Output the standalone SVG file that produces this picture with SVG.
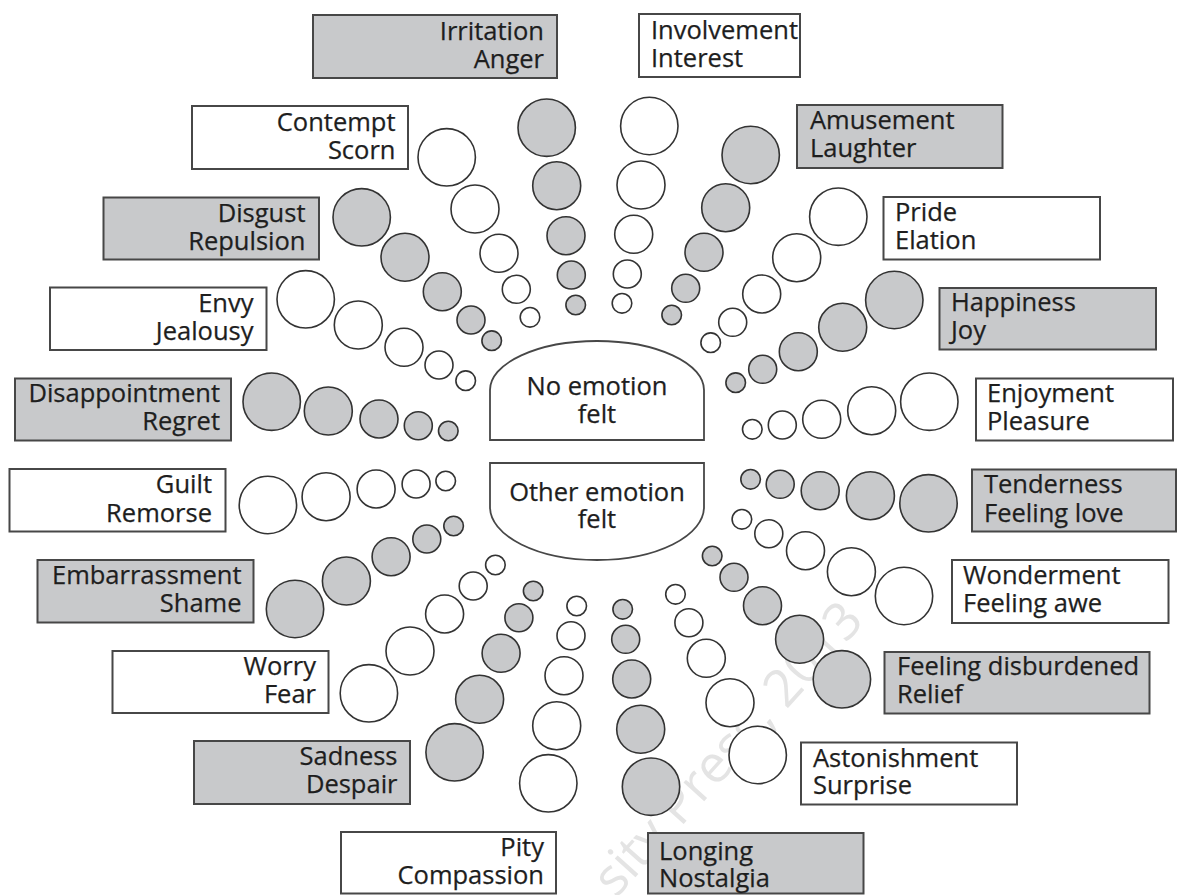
<svg xmlns="http://www.w3.org/2000/svg" width="1180" height="895" viewBox="0 0 1180 895">
  <style>
    .box { stroke: #474747; stroke-width: 2; }
    .g { fill: #c8c9cb; }
    .w { fill: #ffffff; }
    .dot { stroke: #333333; stroke-width: 1.6; }
    .lbl { font-family: "Open Sans", "Noto Sans", "DejaVu Sans", sans-serif; font-size: 25.5px; fill: #1e1e1e; stroke: #1e1e1e; stroke-width: 0.25; }
    .r { text-anchor: end; }
    .c { text-anchor: middle; }
    .core { fill: #ffffff; stroke: #474747; stroke-width: 1.8; }
    .mark { font-family: "Open Sans", "Noto Sans", sans-serif; font-size: 52px; fill: #e4e4e4; }
  </style>

  <rect width="1180" height="895" fill="#ffffff"/>

  <!-- faint publisher notice behind the wheel -->
  <text class="mark" transform="translate(616 899) rotate(-48)">sity Press, 2013</text>

  <!-- centre: neutral answers -->
  <g id="no-emotion">
    <path class="core" d="M490,440 V390 A107,49 0 0 1 704,390 V440 Z"/>
    <text class="lbl c" x="597" y="395">No emotion</text>
    <text class="lbl c" x="597" y="423">felt</text>
  </g>
  <g id="other-emotion">
    <path class="core" d="M490,463 H704 V507 A107,53 0 0 1 490,507 Z"/>
    <text class="lbl c" x="597" y="501">Other emotion</text>
    <text class="lbl c" x="597" y="528">felt</text>
  </g>

  <!-- upper left families -->
  <g id="anger">
    <rect class="box g" x="313" y="15" width="244" height="63"/>
    <text class="lbl r" x="544" y="39.5">Irritation</text>
    <text class="lbl r" x="544" y="67.8">Anger</text>
    <circle class="dot g" cx="575.7" cy="305" r="9.8"/>
    <circle class="dot g" cx="571.3" cy="275" r="14"/>
    <circle class="dot g" cx="566" cy="235.7" r="19"/>
    <circle class="dot g" cx="556.7" cy="185.7" r="24"/>
    <circle class="dot g" cx="546.7" cy="127.7" r="28.7"/>
  </g>
  <g id="contempt">
    <rect class="box w" x="192" y="106" width="216" height="63"/>
    <text class="lbl r" x="395.5" y="130.5">Contempt</text>
    <text class="lbl r" x="395.5" y="158.8">Scorn</text>
    <circle class="dot w" cx="530" cy="317.3" r="9.8"/>
    <circle class="dot w" cx="516.3" cy="289.3" r="14"/>
    <circle class="dot w" cx="499" cy="253.3" r="19"/>
    <circle class="dot w" cx="475" cy="209" r="24"/>
    <circle class="dot w" cx="446.7" cy="157.3" r="28.7"/>
  </g>
  <g id="disgust">
    <rect class="box g" x="103.5" y="197.5" width="215.5" height="62"/>
    <text class="lbl r" x="305.5" y="221.5">Disgust</text>
    <text class="lbl r" x="305.5" y="249.5">Repulsion</text>
    <circle class="dot g" cx="491.7" cy="340.7" r="9.8"/>
    <circle class="dot g" cx="471" cy="320" r="14"/>
    <circle class="dot g" cx="442.3" cy="291.7" r="19"/>
    <circle class="dot g" cx="405" cy="257.3" r="24"/>
    <circle class="dot g" cx="361.7" cy="217.3" r="28.7"/>
  </g>
  <g id="envy">
    <rect class="box w" x="50" y="287.5" width="216.5" height="62.5"/>
    <text class="lbl r" x="253.5" y="311.5">Envy</text>
    <text class="lbl r" x="253.5" y="339.5">Jealousy</text>
    <circle class="dot w" cx="465.7" cy="380.7" r="9.8"/>
    <circle class="dot w" cx="439" cy="365" r="14"/>
    <circle class="dot w" cx="404" cy="347.3" r="19"/>
    <circle class="dot w" cx="358.3" cy="325" r="24"/>
    <circle class="dot w" cx="305.7" cy="299.3" r="28.7"/>
  </g>
  <g id="regret">
    <rect class="box g" x="15" y="378.5" width="216" height="62"/>
    <text class="lbl r" x="220" y="401.8">Disappointment</text>
    <text class="lbl r" x="220" y="429.5">Regret</text>
    <circle class="dot g" cx="448.3" cy="431" r="9.8"/>
    <circle class="dot g" cx="418.3" cy="425.7" r="14"/>
    <circle class="dot g" cx="379" cy="419" r="19"/>
    <circle class="dot g" cx="328.3" cy="411" r="24"/>
    <circle class="dot g" cx="271.7" cy="401.7" r="28.7"/>
  </g>

  <!-- upper right families -->
  <g id="interest">
    <rect class="box w" x="639" y="14" width="161" height="63"/>
    <text class="lbl" x="651" y="39">Involvement</text>
    <text class="lbl" x="651" y="67">Interest</text>
    <circle class="dot w" cx="622" cy="303.3" r="9.8"/>
    <circle class="dot w" cx="627.3" cy="274" r="14"/>
    <circle class="dot w" cx="633.7" cy="234.3" r="19"/>
    <circle class="dot w" cx="641" cy="185" r="24"/>
    <circle class="dot w" cx="649.3" cy="126" r="28.7"/>
  </g>
  <g id="amusement">
    <rect class="box g" x="797" y="105" width="205.5" height="63"/>
    <text class="lbl" x="810" y="129.3">Amusement</text>
    <text class="lbl" x="810" y="157">Laughter</text>
    <circle class="dot g" cx="671.7" cy="315" r="9.8"/>
    <circle class="dot g" cx="685.7" cy="288.3" r="14"/>
    <circle class="dot g" cx="704" cy="252.3" r="19"/>
    <circle class="dot g" cx="725.7" cy="207.7" r="24"/>
    <circle class="dot g" cx="750.7" cy="155" r="28.7"/>
  </g>
  <g id="pride">
    <rect class="box w" x="883.5" y="197" width="216.5" height="62.5"/>
    <text class="lbl" x="895" y="221">Pride</text>
    <text class="lbl" x="895" y="249.3">Elation</text>
    <circle class="dot w" cx="710.7" cy="342.7" r="9.8"/>
    <circle class="dot w" cx="732.7" cy="322.3" r="14"/>
    <circle class="dot w" cx="761.7" cy="294" r="19"/>
    <circle class="dot w" cx="796.7" cy="257.7" r="24"/>
    <circle class="dot w" cx="838.3" cy="216.7" r="28.7"/>
  </g>
  <g id="happiness">
    <rect class="box g" x="939.5" y="288" width="216.5" height="61.5"/>
    <text class="lbl" x="951" y="311">Happiness</text>
    <text class="lbl" x="951" y="339.3">Joy</text>
    <circle class="dot g" cx="735.7" cy="382.7" r="9.8"/>
    <circle class="dot g" cx="762.7" cy="369.3" r="14"/>
    <circle class="dot g" cx="798.3" cy="351.7" r="19"/>
    <circle class="dot g" cx="842.7" cy="327.3" r="24"/>
    <circle class="dot g" cx="894.3" cy="300" r="28.7"/>
  </g>
  <g id="enjoyment">
    <rect class="box w" x="976" y="378.5" width="197" height="62"/>
    <text class="lbl" x="987" y="401.8">Enjoyment</text>
    <text class="lbl" x="987" y="429.5">Pleasure</text>
    <circle class="dot w" cx="752.3" cy="429.3" r="9.8"/>
    <circle class="dot w" cx="782.3" cy="425" r="14"/>
    <circle class="dot w" cx="821.7" cy="419.3" r="19"/>
    <circle class="dot w" cx="871.7" cy="410.7" r="24"/>
    <circle class="dot w" cx="929.3" cy="401.7" r="28.7"/>
  </g>

  <!-- lower left families -->
  <g id="guilt">
    <rect class="box w" x="9.5" y="469" width="216" height="62.5"/>
    <text class="lbl r" x="212" y="493.3">Guilt</text>
    <text class="lbl r" x="212" y="521.5">Remorse</text>
    <circle class="dot w" cx="445.7" cy="481" r="9.8"/>
    <circle class="dot w" cx="416.1" cy="484" r="14"/>
    <circle class="dot w" cx="376.1" cy="489" r="19"/>
    <circle class="dot w" cx="326.1" cy="496.7" r="24"/>
    <circle class="dot w" cx="267.9" cy="505" r="28.7"/>
  </g>
  <g id="shame">
    <rect class="box g" x="37.5" y="560" width="216" height="62.5"/>
    <text class="lbl r" x="241.5" y="584">Embarrassment</text>
    <text class="lbl r" x="241.5" y="612.3">Shame</text>
    <circle class="dot g" cx="453.6" cy="526" r="9.8"/>
    <circle class="dot g" cx="426.8" cy="539" r="14"/>
    <circle class="dot g" cx="391.1" cy="556.7" r="19"/>
    <circle class="dot g" cx="346.4" cy="581" r="24"/>
    <circle class="dot g" cx="295" cy="609" r="28.7"/>
  </g>
  <g id="fear">
    <rect class="box w" x="112.5" y="651" width="216" height="62"/>
    <text class="lbl r" x="316" y="674.5">Worry</text>
    <text class="lbl r" x="316" y="702.7">Fear</text>
    <circle class="dot w" cx="495.4" cy="565" r="9.8"/>
    <circle class="dot w" cx="473.2" cy="586" r="14"/>
    <circle class="dot w" cx="444.6" cy="614" r="19"/>
    <circle class="dot w" cx="410" cy="651" r="24"/>
    <circle class="dot w" cx="368.9" cy="693.3" r="28.7"/>
  </g>
  <g id="sadness">
    <rect class="box g" x="194" y="741" width="216" height="63"/>
    <text class="lbl r" x="397.5" y="765">Sadness</text>
    <text class="lbl r" x="397.5" y="793.3">Despair</text>
    <circle class="dot g" cx="533.2" cy="591" r="9.8"/>
    <circle class="dot g" cx="518.9" cy="617.7" r="14"/>
    <circle class="dot g" cx="501.1" cy="653.3" r="19"/>
    <circle class="dot g" cx="479.6" cy="699.3" r="24"/>
    <circle class="dot g" cx="454.6" cy="752.3" r="28.7"/>
  </g>
  <g id="pity">
    <rect class="box w" x="341" y="832" width="215" height="61.5"/>
    <text class="lbl r" x="544" y="856">Pity</text>
    <text class="lbl r" x="544" y="884">Compassion</text>
    <circle class="dot w" cx="576.7" cy="606" r="9.8"/>
    <circle class="dot w" cx="571" cy="635.7" r="14"/>
    <circle class="dot w" cx="564" cy="675.7" r="19"/>
    <circle class="dot w" cx="556.7" cy="725.7" r="24"/>
    <circle class="dot w" cx="548.3" cy="783.3" r="28.7"/>
  </g>

  <!-- lower right families -->
  <g id="longing">
    <rect class="box g" x="648" y="833" width="215.5" height="60.5"/>
    <text class="lbl" x="659" y="859.5">Longing</text>
    <text class="lbl" x="659" y="886.5">Nostalgia</text>
    <circle class="dot g" cx="622.7" cy="609.3" r="9.8"/>
    <circle class="dot g" cx="625.7" cy="639.3" r="14"/>
    <circle class="dot g" cx="631.7" cy="679" r="19"/>
    <circle class="dot g" cx="640.7" cy="729.3" r="24"/>
    <circle class="dot g" cx="651" cy="786.7" r="28.7"/>
  </g>
  <g id="surprise">
    <rect class="box w" x="801" y="742.5" width="216" height="62"/>
    <text class="lbl" x="813" y="766.7">Astonishment</text>
    <text class="lbl" x="813" y="794">Surprise</text>
    <circle class="dot w" cx="675.5" cy="594.3" r="9.8"/>
    <circle class="dot w" cx="688.9" cy="622.7" r="14"/>
    <circle class="dot w" cx="706.3" cy="658.3" r="19"/>
    <circle class="dot w" cx="730" cy="702.7" r="24"/>
    <circle class="dot w" cx="757.7" cy="755" r="28.7"/>
  </g>
  <g id="relief">
    <rect class="box g" x="884.5" y="652" width="265" height="61.5"/>
    <text class="lbl" x="897" y="675.3">Feeling disburdened</text>
    <text class="lbl" x="897" y="703.3">Relief</text>
    <circle class="dot g" cx="712.2" cy="556" r="9.8"/>
    <circle class="dot g" cx="734" cy="577.3" r="14"/>
    <circle class="dot g" cx="762.5" cy="605.7" r="19"/>
    <circle class="dot g" cx="799.6" cy="639.3" r="24"/>
    <circle class="dot g" cx="841.9" cy="679.3" r="28.7"/>
  </g>
  <g id="wonderment">
    <rect class="box w" x="952" y="560" width="216.5" height="63"/>
    <text class="lbl" x="963" y="584">Wonderment</text>
    <text class="lbl" x="963" y="612.3">Feeling awe</text>
    <circle class="dot w" cx="741.9" cy="519.3" r="9.8"/>
    <circle class="dot w" cx="768.8" cy="533.7" r="14"/>
    <circle class="dot w" cx="805.5" cy="550.7" r="19"/>
    <circle class="dot w" cx="851.4" cy="571.7" r="24"/>
    <circle class="dot w" cx="904" cy="596" r="28.7"/>
  </g>
  <g id="tenderness">
    <rect class="box g" x="972" y="469.5" width="204" height="62"/>
    <text class="lbl" x="984" y="493.3">Tenderness</text>
    <text class="lbl" x="984" y="521.7">Feeling love</text>
    <circle class="dot g" cx="750.6" cy="479.3" r="9.8"/>
    <circle class="dot g" cx="780.2" cy="484.3" r="14"/>
    <circle class="dot g" cx="820.2" cy="490.7" r="19"/>
    <circle class="dot g" cx="870.4" cy="495.7" r="24"/>
    <circle class="dot g" cx="928.5" cy="503.3" r="28.7"/>
  </g>
</svg>
